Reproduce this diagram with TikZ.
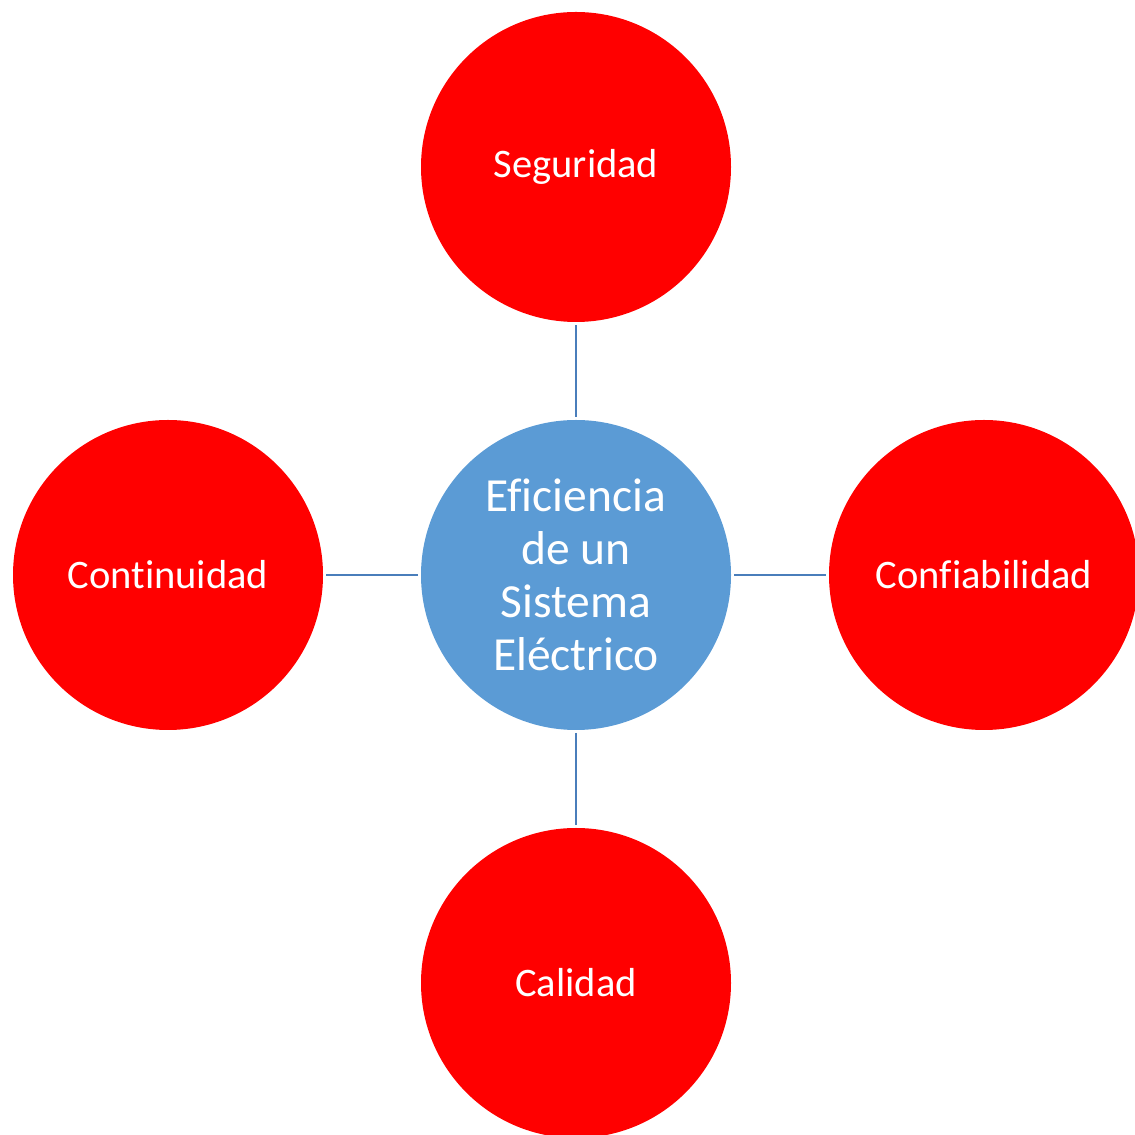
\documentclass[tikz,border=0pt]{standalone}
\usepackage{fontspec}
\setmainfont{Carlito}[Ligatures=NoCommon]
\usetikzlibrary{positioning}
\definecolor{rojo}{HTML}{FF0000}
\definecolor{azul}{HTML}{5B9BD5}
\definecolor{linea}{HTML}{4A7EBB}
\begin{document}
\begin{tikzpicture}[x=1pt, y=1pt,
	every node/.style={circle, minimum size=310pt, inner sep=0pt, outer sep=3pt, text=white, align=center},
	outer/.style={fill=rojo, font=\fontsize{40.5}{48}\selectfont},
	centro/.style={fill=azul, font=\fontsize{47.5}{53}\selectfont}]
		\useasboundingbox (0,0) rectangle (1135,1135);
		% Central node
		\node[centro] (E) at (576,560) {Eficiencia\\de un\\Sistema\\Eléctrico};
		
		% Outer nodes
		\node[outer, above=92pt of E] (S) {Seguridad};
		\node[outer, below=92pt of E] (Q) {Calidad};
		\node[outer, left=92pt of E] (C) {Continuidad};
		\node[outer, right=92pt of E] (F) {Confiabilidad};
		
		% Draw connectors
		\foreach \p in {S,Q,C,F}
		\draw[linea, line width=2pt] (E) -- (\p);
	\end{tikzpicture}
\end{document}
